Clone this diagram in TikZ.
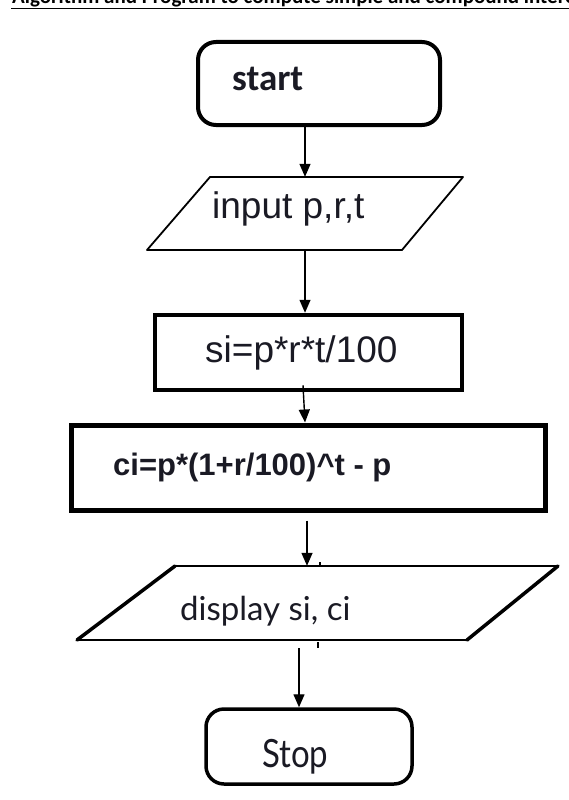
\documentclass[tikz,border=0pt]{standalone}
\usepackage{fontspec}
\usetikzlibrary{arrows.meta,calc}
\newfontfamily\calfont{Carlito}
\newfontfamily\arialfont{Liberation Sans}
\newfontfamily\gillfont{Lato}
\definecolor{ink}{HTML}{1A1A24}
\definecolor{thin}{HTML}{8C8C8C}
\tikzset{
  term/.style={draw=black, rounded corners=18pt, inner sep=0pt},
  procbox/.style={draw=black, inner sep=0pt},
  ghost/.style={inner sep=0pt},
  lbl/.style={anchor=base west, inner sep=0pt, text=ink},
  arr/.style={draw=black, line width=1.4pt, -{Triangle[length=13pt,width=11pt]}},
}
\begin{document}
\begin{tikzpicture}[x=1pt,y=-1pt]
\useasboundingbox (0,0) rectangle (569,800);
\fill[white] (0,0) rectangle (569,800);
% header (cut off at the top, as in the reference)
\begin{scope}
\clip (0,0) rectangle (569,20);
\node[anchor=base west, inner sep=0pt, font=\calfont\bfseries\fontsize{21}{24}\selectfont] (hdr) at (12,3.5) {Algorithm and Program to compute simple and compound interest};
\end{scope}
\draw[thin, line width=1.5pt] (11,8.5) -- (569,8.5);

% start
\node[term, line width=4pt, minimum width=242pt, minimum height=83pt] (start) at (319,83.5) {};
\node[lbl, font=\calfont\bfseries\fontsize{37}{40}\selectfont] (startt) at (232,90) {start};

% input
\node[ghost, minimum width=316pt, minimum height=73pt] (in) at (305,213.5) {};
\draw[thin, line width=1.8pt, line join=round] (210,177) -- (463,177) -- (402,250) -- (147,250) -- cycle;
\node[lbl, font=\arialfont\fontsize{37}{40}\selectfont] (int) at (212,218) {input p,r,t};

% si
\node[procbox, line width=4.5pt, minimum width=307pt, minimum height=75pt] (si) at (308.5,352.5) {};
\node[lbl, font=\arialfont\fontsize{37}{40}\selectfont] (sit) at (205,362) {si=p*r*t/100};

% ci
\node[procbox, line width=5pt, minimum width=474pt, minimum height=85pt] (ci) at (308,467.5) {};
\node[lbl, font=\arialfont\bfseries\fontsize{31}{34}\selectfont] (cit) at (113,475) {ci=p*(1+r/100)\^{}t - p};

% display
\node[ghost, minimum width=481pt, minimum height=74pt] (disp) at (317.5,603) {};
\draw[thin, line width=2pt] (175,566) -- (558,566);
\draw[thin, line width=2pt] (77,640) -- (467,640);
\draw[black, line width=3.5pt, line cap=round] (77,640) -- (175,566);
\draw[black, line width=3.5pt, line cap=round] (467,640) -- (558,566);
\node[lbl, font=\gillfont\fontsize{33}{36}\selectfont] (dispt) at (180,620) {display si, ci};
\draw[black, line width=1.5pt] (320,562) -- (320,567);
\draw[black, line width=1.5pt] (318,642) -- (318,648);

% stop
\node[term, line width=3.5pt, minimum width=206pt, minimum height=75pt] (stop) at (309,746.5) {};
\node[lbl, font=\gillfont\fontsize{33}{36}\selectfont] (stopt) at (262,767) {\scalebox{1}[1.18]{Stop}};

% connectors
\draw[arr] (start.south -| in.north) -- (in.north);
\draw[arr] (in.south) -- (in.south |- si.north);
\draw[arr] ($(si.south -| in.south)+(-2,-7)$) coordinate (s1) -- (in.south |- ci.north);
\draw[arr] ($(ci.south)+(-1,8)$) coordinate (c1) -- (c1 |- disp.north);
\draw[arr] ($(disp.south)+(-18.5,8)$) coordinate (d1) -- (d1 |- stop.north);
\end{tikzpicture}
\end{document}
